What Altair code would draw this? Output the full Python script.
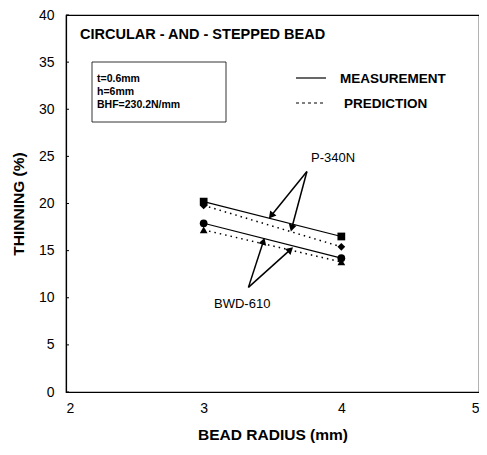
import math
import altair as alt
import pandas as pd

# ---------------- data ----------------
radius = [3, 4]
p340_meas = [20.2, 16.5]
p340_pred = [19.8, 15.4]
bwd_meas = [17.9, 14.2]
bwd_pred = [17.2, 13.8]

series_names = ["P-340N meas", "P-340N pred", "BWD-610 meas", "BWD-610 pred"]
series_vals = [p340_meas, p340_pred, bwd_meas, bwd_pred]
series_kind = ["MEASUREMENT", "PREDICTION", "MEASUREMENT", "PREDICTION"]
series_shape = ["square", "diamond", "circle", "triangle-up"]

x_ticks = [2, 3, 4, 5]
y_ticks = [0, 5, 10, 15, 20, 25, 30, 35, 40]

title_text = "CIRCULAR - AND - STEPPED BEAD"
info_lines = ["t=0.6mm", "h=6mm", "BHF=230.2N/mm"]
legend_labels = ["MEASUREMENT", "PREDICTION"]

# annotation labels and arrows (data units)
label_names = ["P-340N", "BWD-610"]
label_x = [3.94, 3.28]
label_y = [24.8, 9.3]
arrow_tail_x = [3.75, 3.75, 3.325, 3.325]
arrow_tail_y = [23.4, 23.4, 11.1, 11.1]
arrow_head_x = [3.49, 3.64, 3.434, 3.63]
arrow_head_y = [18.7, 17.4, 16.0, 15.1]

# ---------------- layout ----------------
W, H = 413, 377
FONT = "Liberation Sans"
XD, YD = [2, 5], [0, 40]
px_per_x = W / (XD[1] - XD[0])
px_per_y = H / (YD[1] - YD[0])

rows = []
for name, vals, kind, shp in zip(series_names, series_vals, series_kind, series_shape):
    for r, v in zip(radius, vals):
        rows.append({"series": name, "radius": r, "thin": v, "kind": kind, "shape": shp})
df = pd.DataFrame(rows)

xs = alt.Scale(domain=XD, nice=False)
ys = alt.Scale(domain=YD, nice=False)
xenc = alt.X("radius:Q", scale=xs,
             axis=alt.Axis(values=x_ticks, title="BEAD RADIUS (mm)", grid=False,
                           tickSize=0, labelPadding=9, titlePadding=12, format="d"))
yenc = alt.Y("thin:Q", scale=ys,
             axis=alt.Axis(values=y_ticks, title="THINNING (%)", grid=False,
                           tickSize=0, labelPadding=12, titlePadding=12))

solid = alt.Chart(df[df.kind == "MEASUREMENT"]).mark_line(color="black", strokeWidth=1.2).encode(
    x=xenc, y=yenc, detail="series:N")
dotted = alt.Chart(df[df.kind == "PREDICTION"]).mark_line(
    color="black", strokeWidth=1.5, strokeDash=[1.5, 4]).encode(
    x=xenc, y=yenc, detail="series:N")
points = alt.Chart(df).mark_point(filled=True, color="black", opacity=1, size=60).encode(
    x=xenc, y=yenc,
    shape=alt.Shape("shape:N", scale=None, legend=None))

# small inward ticks on the y axis
ytdf = pd.DataFrame({"yt": y_ticks})
yticks_in = alt.Chart(ytdf).mark_rule(color="black", strokeWidth=1).encode(
    x=alt.value(0), x2=alt.value(3), y=alt.Y("yt:Q", scale=ys))

# arrows
arr_rows = []
for i, (tx, ty, hx, hy) in enumerate(zip(arrow_tail_x, arrow_tail_y, arrow_head_x, arrow_head_y)):
    dx = (hx - tx) * px_per_x
    dy = -(hy - ty) * px_per_y
    ang = math.degrees(math.atan2(dx, -dy)) % 360
    arr_rows.append({"id": i, "tx": tx, "ty": ty, "hx": hx, "hy": hy, "ang": ang})
adf = pd.DataFrame(arr_rows)
shafts = alt.Chart(adf).mark_rule(color="black", strokeWidth=1.5).encode(
    x=alt.X("tx:Q", scale=xs), y=alt.Y("ty:Q", scale=ys),
    x2="hx:Q", y2="hy:Q")
heads = alt.Chart(adf).mark_point(shape="triangle-up", filled=True, color="black",
                                  opacity=1, size=65).encode(
    x=alt.X("hx:Q", scale=xs), y=alt.Y("hy:Q", scale=ys),
    angle=alt.Angle("ang:Q", scale=None))

ldf = pd.DataFrame({"label": label_names, "x": label_x, "y": label_y})
labels = alt.Chart(ldf).mark_text(font=FONT, fontSize=13, color="black").encode(
    x=alt.X("x:Q", scale=xs), y=alt.Y("y:Q", scale=ys), text="label:N")

# title inside plot
tdf = pd.DataFrame({"t": [title_text]})
title = alt.Chart(tdf).mark_text(font=FONT, fontSize=14.5, fontWeight="bold", align="left",
                                 baseline="middle", color="black").encode(
    x=alt.value(14), y=alt.value(20), text="t:N")

# info box
box = alt.Chart(tdf).mark_rect(fill=None, stroke="black", strokeWidth=0.8).encode(
    x=alt.value(26), x2=alt.value(160), y=alt.value(47), y2=alt.value(107))
idf = pd.DataFrame({"t": info_lines, "yy": [64, 77, 90]})
info = alt.Chart(idf).mark_text(font=FONT, fontSize=10.5, fontWeight="bold", align="left",
                                baseline="middle", color="black").encode(
    x=alt.value(31), y=alt.Y("yy:Q", scale=None), text="t:N")

# legend
leg_solid = alt.Chart(tdf).mark_rule(color="black", strokeWidth=1.2).encode(
    x=alt.value(230), x2=alt.value(260), y=alt.value(63))
leg_dot = alt.Chart(tdf).mark_rule(color="black", strokeWidth=1.2, strokeDash=[3, 3]).encode(
    x=alt.value(230), x2=alt.value(260), y=alt.value(88))
lgdf = pd.DataFrame({"t": legend_labels, "xx": [274, 278], "yy": [64, 89]})
leg_text = alt.Chart(lgdf).mark_text(font=FONT, fontSize=13.5, fontWeight="bold", align="left",
                                     baseline="middle", color="black").encode(
    x=alt.X("xx:Q", scale=None), y=alt.Y("yy:Q", scale=None), text="t:N")

chart = alt.layer(
    solid, dotted, points, yticks_in, shafts, heads, labels, title, box, info,
    leg_solid, leg_dot, leg_text
).properties(
    width=W, height=H,
    background="white",
    autosize=alt.AutoSizeParams(type="none"),
    padding={"left": 58, "top": 7, "right": 0, "bottom": 55},
).configure_view(
    stroke="black", strokeWidth=1.2
).configure_axis(
    labelFont=FONT, titleFont=FONT, labelFontSize=14, titleFontSize=15.5,
    titleFontWeight="bold", labelColor="black", titleColor="black",
    domainColor="black", domainWidth=1.2
)

chart.save("out.html", embed_options={"renderer": "svg", "actions": False})
